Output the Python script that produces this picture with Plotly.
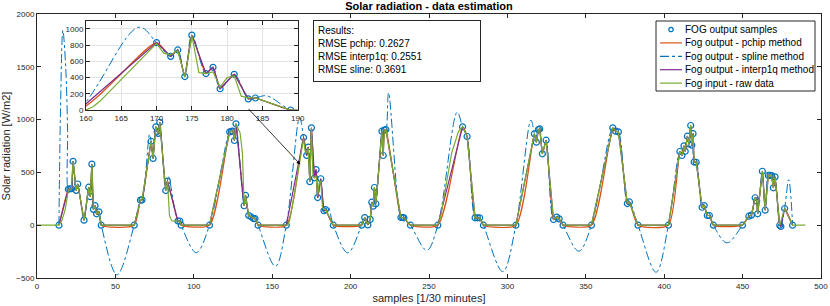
import plotly.graph_objects as go

# ---------------- data ----------------
# FOG output samples
sample_x = [14, 20, 21, 22, 23, 25, 26, 30, 33, 34, 35, 36, 37, 38, 39.5, 41,
            62, 66, 67, 72.8, 74, 75.8, 76.7, 77.3, 78.3, 82.1, 83.2, 89.9, 91.1, 92,
            110, 122.9, 124, 124.9, 125.9, 126.9, 132.1, 133, 135, 136.5, 138, 139, 141,
            159, 170, 172, 173, 174, 175, 177, 178, 179, 181, 183, 184, 189,
            207, 209, 211, 212.5, 213.5, 214.4, 215.2, 216.1, 220, 220.8, 221.5, 222.5, 232.1, 233.2, 234, 238.2,
            255.6, 271.4, 274.3, 279.4, 280.9, 282.3, 284.7,
            305.4, 317.2, 318.5, 319.8, 320.6, 322.3, 324.7, 329.4, 331.5, 333, 335.5,
            353.6, 367.2, 369, 370.8, 376.5, 377.8, 383.3,
            402.7, 410, 411.3, 412.6, 413.4, 414.8, 415.8, 416.9, 417.6, 418.4, 419.1, 420.4, 424.2, 425.5, 427.5, 428.8, 431.4,
            449.9, 454, 455.6, 458, 459, 459.6, 462.6, 464.4, 466.4, 467.5, 468.5, 469.6, 470.7, 473.7, 474.4, 476.8, 481.9]
sample_y = [0, 340, 345, 345, 605, 330, 390, 48, 360, 270, 578, 150, 185, 108, 127, 0,
            0, 237, 240, 795, 632, 932, 888, 870, 975, 328, 418, 40, 40, 0,
            0, 884, 889, 890, 802, 960, 184, 283, 92, 80, 63, 63, 0,
            0, 830, 661, 740, 412, 922, 449, 526, 262, 440, 137, 148, 0,
            0, 72, 3, 55, 218, 180, 357, 203, 890, 660, 900, 906, 73, 73, 70, 0,
            0, 932, 840, 70, 70, 70, 0,
            0, 865, 786, 906, 912, 676, 805, 54, 76, 60, 0,
            0, 922, 890, 884, 205, 220, 0,
            0, 698, 660, 752, 700, 843, 770, 944, 758, 867, 598, 596, 170, 186, 92, 92, 0,
            0, 85, 95, 260, 230, 108, 511, 142, 471, 471, 470, 354, 458, 0, -12, 158, 0]

# Extremes of the spline-method curve between samples
spline_extra_x = [15, 16.5, 18.3, 19.5, 51, 71.8, 83.9, 101.5, 152, 167.5, 185.6, 198.2, 224.2,
                  248.6, 268, 297, 315, 345.5, 394.8, 440, 479.4]
spline_extra_y = [1100, 1846, 1500, 900, -470, 860, 464, -260, -390, 1020, 175, -262, 1254,
                  -238, 1070, -440, 995, -246, -445, -167, 430]

# Fog input - raw data
raw_x = [0, 14, 16, 18, 20, 21, 22, 23, 25, 26, 30, 33, 34, 35, 36, 37, 38, 39.5, 41,
         62, 66, 67, 72.8, 74, 75.8, 76.7, 77.3, 78.3, 82.1, 83.2, 84.5, 86, 89.9, 91.1, 92,
         110, 122.9, 124, 124.9, 125.9, 126.9, 129.5, 131, 132.1, 133, 135, 136.5, 138, 139, 141,
         160, 161, 162, 170, 171, 172, 173, 174, 175, 176, 177, 178, 179, 180, 181, 182, 183, 184, 189,
         207, 209, 211, 212.5, 213.5, 214.4, 215.2, 216.1, 220, 220.8, 221.5, 222.5, 232.1, 233.2, 234, 238.2,
         255.6, 257.5, 260.3, 264.5, 268.8, 271.4, 274.3, 279.4, 280.9, 282.3, 284.7,
         305.4, 317.2, 318.5, 319.8, 320.6, 322.3, 324.7, 329.4, 331.5, 333, 335.5,
         353.6, 367.2, 369, 370.8, 376.5, 377.8, 383.3,
         402.7, 410, 411.3, 412.6, 413.4, 414.8, 415.8, 416.9, 417.6, 418.4, 419.1, 420.4, 424.2, 425.5, 427.5, 428.8, 431.4,
         449.9, 454, 455.6, 458, 459, 459.6, 462.6, 464.4, 466.4, 467.5, 468.5, 469.6, 470.7, 473.7, 476.8, 481.9, 490]
raw_y = [0, 0, 50, 150, 330, 345, 345, 605, 330, 390, 48, 360, 270, 578, 150, 185, 108, 127, 0,
         0, 237, 240, 795, 632, 932, 888, 870, 975, 328, 418, 90, 40, 38, 38, 0,
         0, 884, 889, 890, 802, 960, 875, 686, 187, 283, 92, 80, 63, 63, 0,
         0, 40, 110, 820, 700, 680, 730, 410, 920, 460, 450, 470, 280, 400, 420, 170, 150, 150, 0,
         0, 72, 3, 55, 218, 180, 357, 203, 890, 660, 900, 906, 73, 73, 70, 0,
         0, 85, 338, 686, 890, 932, 840, 70, 70, 70, 0,
         0, 865, 786, 906, 912, 676, 805, 54, 76, 60, 0,
         0, 922, 890, 884, 205, 220, 0,
         0, 698, 660, 752, 700, 843, 770, 944, 758, 867, 598, 596, 170, 186, 92, 92, 0,
         0, 85, 95, 260, 230, 108, 511, 142, 471, 471, 470, 354, 458, 0, 158, 0, 0]

legend_names = ["FOG output samples", "Fog output - pchip method", "Fog output - spline method",
                "Fog output - interp1q method", "Fog input - raw data"]
result_lines = ["Results:", "RMSE pchip: 0.2627", "RMSE interp1q: 0.2551", "RMSE sline: 0.3691"]

# ---------------- styling ----------------
C_BLUE = "#0072BD"
C_ORANGE = "#D95319"
C_PURPLE = "#7E2F8E"
C_GREEN = "#77AC30"
AX = "#262626"
FONT = "Liberation Sans, Arial, Helvetica, sans-serif"

# spline series: samples plus read-off extremes, merged and sorted by x
spl = sorted(zip(sample_x + spline_extra_x, sample_y + spline_extra_y))
spl_x = [p[0] for p in spl]
spl_y = [p[1] for p in spl]

fig = go.Figure()


def add_all(xa, ya):
    fig.add_trace(go.Scatter(x=sample_x, y=sample_y, mode="markers", name=legend_names[0],
                             marker=dict(symbol="circle-open", size=6, color=C_BLUE, line=dict(width=1.2)),
                             xaxis=xa, yaxis=ya, showlegend=False))
    fig.add_trace(go.Scatter(x=sample_x, y=sample_y, mode="lines", name=legend_names[1],
                             line=dict(color=C_ORANGE, width=1.2, shape="spline", smoothing=0.6),
                             xaxis=xa, yaxis=ya, showlegend=False))
    fig.add_trace(go.Scatter(x=spl_x, y=spl_y, mode="lines", name=legend_names[2],
                             line=dict(color=C_BLUE, width=1, dash="dashdot", shape="spline", smoothing=1.0),
                             xaxis=xa, yaxis=ya, showlegend=False))
    fig.add_trace(go.Scatter(x=sample_x, y=sample_y, mode="lines", name=legend_names[3],
                             line=dict(color=C_PURPLE, width=1.2),
                             xaxis=xa, yaxis=ya, showlegend=False))
    fig.add_trace(go.Scatter(x=raw_x, y=raw_y, mode="lines", name=legend_names[4],
                             line=dict(color=C_GREEN, width=1.2),
                             xaxis=xa, yaxis=ya, showlegend=False))


add_all("x", "y")
add_all("x2", "y2")

W, H = 830, 306
ML, MR, MT, MB = 37, 9, 14, 28
pw, ph = W - ML - MR, H - MT - MB


def px2paper_x(px):
    return (px - ML) / pw


def px2paper_y(py):
    return (H - MB - py) / ph


axis_common = dict(showline=True, linecolor=AX, linewidth=1, mirror="ticks", ticks="inside",
                   ticklen=4, tickcolor=AX, tickfont=dict(size=8, color=AX, family=FONT),
                   zeroline=False, automargin=False)

fig.update_layout(
    width=W, height=H,
    margin=dict(l=ML, r=MR, t=MT, b=MB, autoexpand=False),
    paper_bgcolor="white", plot_bgcolor="white",
    font=dict(family=FONT, color=AX),
    title=dict(text="<b>Solar radiation - data estimation</b>", x=0.5, xref="paper", xanchor="center",
               y=1 - 6 / H, yanchor="middle", font=dict(size=11, color="black", family=FONT)),
    xaxis=dict(range=[0, 500], tickvals=list(range(0, 501, 50)), showgrid=False,
               title=dict(text="samples [1/30 minutes]", font=dict(size=11, color=AX, family=FONT), standoff=4),
               **axis_common),
    yaxis=dict(range=[-500, 2000], tickvals=list(range(-500, 2001, 500)), showgrid=False,
               title=dict(text="Solar radiation [W/m2]", font=dict(size=11, color=AX, family=FONT), standoff=6),
               **axis_common),
    xaxis2=dict(domain=[px2paper_x(86), px2paper_x(297.7)], anchor="y2", range=[160, 190],
                tickvals=list(range(160, 191, 5)), showgrid=True, gridcolor="#e3e3e3", **axis_common),
    yaxis2=dict(domain=[px2paper_y(110), px2paper_y(20.7)], anchor="x2", range=[0, 1100],
                tickvals=list(range(0, 1001, 200)), showgrid=True, gridcolor="#e3e3e3", **axis_common),
    showlegend=False,
)

# white background behind the inset axes
fig.add_shape(type="rect", xref="x2 domain", yref="y2 domain", x0=0, x1=1, y0=0, y1=1,
              layer="below", fillcolor="white", line=dict(width=0))

# results text box
fig.add_annotation(xref="paper", yref="paper", x=px2paper_x(313), y=px2paper_y(20),
                   xanchor="left", yanchor="top", align="left", valign="top",
                   text="<br>".join(result_lines), showarrow=False,
                   font=dict(size=10, color="black", family=FONT),
                   bgcolor="white", bordercolor=AX, borderwidth=1, borderpad=4,
                   width=158, height=52)

# arrow from inset to the zoomed region
fig.add_annotation(xref="x", yref="y", x=168, y=575, axref="x", ayref="y", ax=134, ay=1115,
                   text="", showarrow=True, arrowhead=2, arrowsize=1, arrowwidth=0.8, arrowcolor="black")

# legend box (MATLAB-style, compact rows)
LX0, LX1, LY0, LY1 = 656, 815, 21, 91
fig.add_shape(type="rect", xref="paper", yref="paper",
              x0=px2paper_x(LX0), x1=px2paper_x(LX1), y0=px2paper_y(LY1), y1=px2paper_y(LY0),
              layer="above", fillcolor="white", line=dict(color=AX, width=1))
row_y = [LY0 + 8.5 + 13.4 * i for i in range(5)]
styles = [None, (C_ORANGE, "solid"), (C_BLUE, "dashdot"), (C_PURPLE, "solid"), (C_GREEN, "solid")]
for i, name in enumerate(legend_names):
    yy = px2paper_y(row_y[i])
    if styles[i] is None:
        r = 2.2
        fig.add_shape(type="circle", xref="paper", yref="paper",
                      x0=px2paper_x(671 - r), x1=px2paper_x(671 + r),
                      y0=px2paper_y(row_y[i] + r), y1=px2paper_y(row_y[i] - r),
                      layer="above", line=dict(color=C_BLUE, width=1.2))
    else:
        col, dash = styles[i]
        fig.add_shape(type="line", xref="paper", yref="paper",
                      x0=px2paper_x(660), x1=px2paper_x(682), y0=yy, y1=yy,
                      layer="above", line=dict(color=col, width=1.2, dash=dash))
    fig.add_annotation(xref="paper", yref="paper", x=px2paper_x(683), y=yy,
                       xanchor="left", yanchor="middle", text=name, showarrow=False,
                       font=dict(size=10, color="black", family=FONT))

fig.write_html("out.html", config={"displayModeBar": False, "displaylogo": False},
               post_script="document.body.style.margin='0';")
